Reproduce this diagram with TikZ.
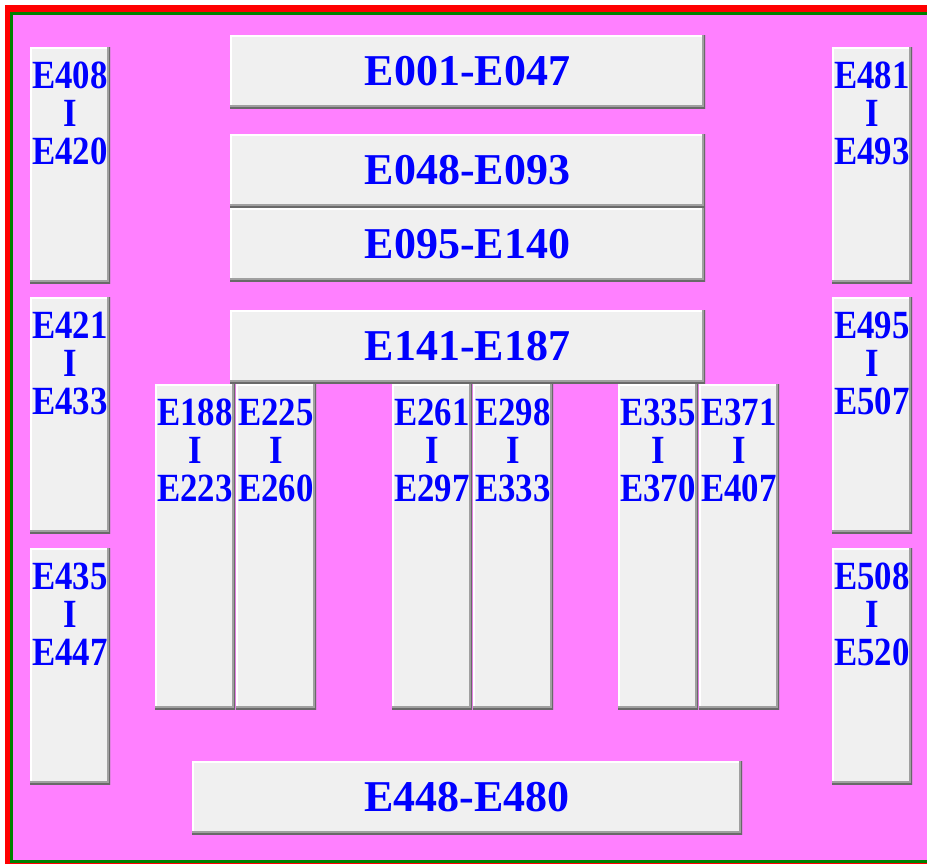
\documentclass[tikz,border=0pt]{standalone}
\usepackage{fontspec}
\setmainfont{Liberation Serif}
\newfontfamily\narrowfont[FakeStretch=0.87]{Liberation Serif}
\usetikzlibrary{positioning}

\definecolor{bgpink}{HTML}{FF80FF}
\definecolor{boxgray}{HTML}{F0F0F0}
\definecolor{edgegray}{HTML}{A0A0A0}
\definecolor{edgedark}{HTML}{696969}
\definecolor{framegreen}{HTML}{008000}

\begin{document}
\begin{tikzpicture}[
    x=1pt, y=-1pt,
    box/.style={
        rectangle,
        fill=boxgray,
        inner sep=0pt,
        outer sep=0pt,
        text=blue,
        font=\fontsize{44}{44}\selectfont\bfseries,
        path picture={
            \draw[white, line width=3pt]
                (path picture bounding box.south west) |- (path picture bounding box.north east);
            \draw[edgegray, line width=6pt]
                (path picture bounding box.south west) -| (path picture bounding box.north east);
            \draw[edgedark, line width=2pt]
                (path picture bounding box.south west) -| (path picture bounding box.north east);
        }
    },
    hsec/.style={box, minimum width=475pt, minimum height=73pt},
    vlab/.style={
        anchor=north,
        yshift=-15pt,
        inner sep=0pt,
        align=center,
        text=blue,
        font=\narrowfont\fontsize{40}{38}\selectfont\bfseries
    },
    vsec/.style={box, minimum width=80pt, minimum height=236pt, label={[vlab]north:#1}},
    vcol/.style={box, minimum width=80pt, minimum height=325pt, label={[vlab]north:#1}}
]

% frame and floor
\useasboundingbox (0,0) rectangle (927,863);
\clip (0,0) rectangle (927,863);
\fill[white] (0,0) rectangle (927,863);
\fill[red] (5,5) rectangle (940,880);
\fill[framegreen] (10,12) rectangle (940,863);
\fill[bgpink] (13,15) rectangle (940,860);

% left wall
\node (e408) [vsec={E408\\I\\E420}, anchor=north west] at (30,47) {};
\node (e421) [vsec={E421\\I\\E433}, anchor=north west] at (30,297) {};
\node (e435) [vsec={E435\\I\\E447}, anchor=north west] at (30,548) {};

% right wall
\node (e481) [vsec={E481\\I\\E493}, anchor=north west] at (832,47) {};
\node (e495) [vsec={E495\\I\\E507}, anchor=north west] at (832,297) {};
\node (e508) [vsec={E508\\I\\E520}, anchor=north west] at (832,548) {};

% middle rows
\node (e001) [hsec, anchor=north west] at (230,35) {E001-E047};
\node (e048) [hsec, anchor=north west] at (230,134) {E048-E093};
\node (e095) [hsec, below=1pt of e048] {E095-E140};
\node (e141) [hsec, anchor=north west] at (230,310) {E141-E187};

% columns under E141-E187
\node (e188) [vcol={E188\\I\\E223}, anchor=north west] at (155,384) {};
\node (e225) [vcol={E225\\I\\E260}, right=1pt of e188] {};
\node (e261) [vcol={E261\\I\\E297}, anchor=north west] at (392,384) {};
\node (e298) [vcol={E298\\I\\E333}, right=1pt of e261] {};
\node (e335) [vcol={E335\\I\\E370}, anchor=north west] at (618,384) {};
\node (e371) [vcol={E371\\I\\E407}, right=1pt of e335] {};

% bottom row
\node (e448) [box, minimum width=550pt, minimum height=73pt, anchor=north west] at (192,761) {E448-E480};

\end{tikzpicture}
\end{document}
